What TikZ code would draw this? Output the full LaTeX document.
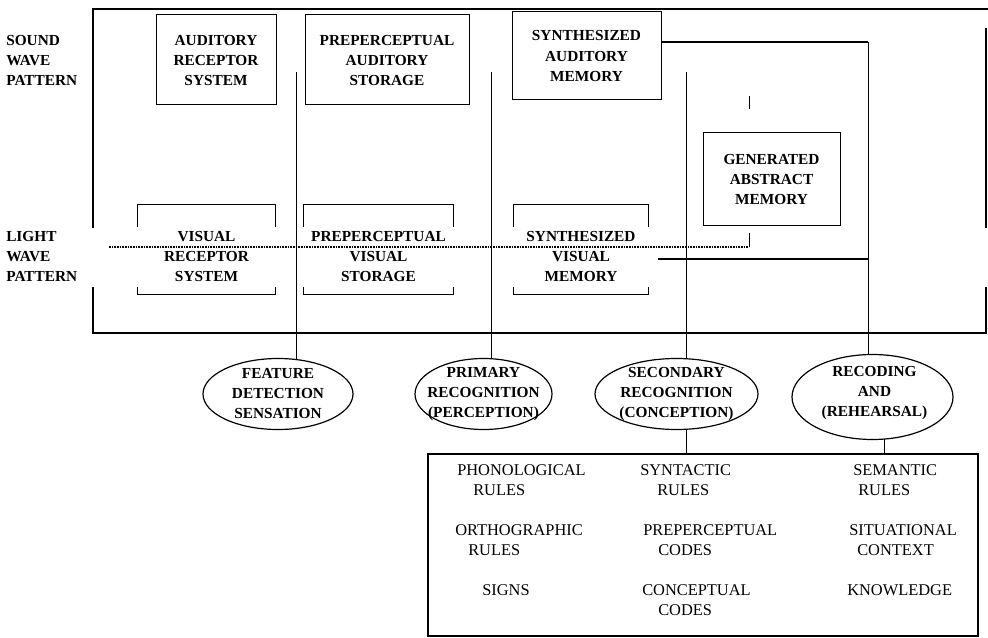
\documentclass[tikz,border=0pt]{standalone}
\usepackage{fontspec}
\setmainfont{Liberation Serif}
\usetikzlibrary{shapes.geometric,calc,backgrounds}
\newcommand{\boxfont}{\fontsize{11.5}{15}\selectfont\bfseries}
\newcommand{\rulefont}{\fontsize{12.3}{15}\selectfont}
\tikzset{
  frame/.style={line width=1pt},
  mem/.style={draw, line width=0.75pt, align=center, font=\boxfont, inner sep=0pt},
  vis/.style={align=center, font=\boxfont, inner sep=0pt},
  brk/.style={line width=0.75pt},
  stage/.style={ellipse, draw, fill=white, line width=0.9pt, inner sep=0pt, minimum height=53.25pt},
  stagetxt/.style={align=center, font=\boxfont, inner sep=0pt},
  wave/.style={align=left, font=\boxfont, anchor=west, inner sep=0pt},
  feed/.style={line width=0.6pt},
  link/.style={line width=1.3pt},
  lightray/.style={line width=0.8pt, dash pattern=on 1.2pt off 0.8pt},
  ruletxt/.style={align=left, font=\rulefont, anchor=west, inner sep=0pt},
}

\begin{document}
\begin{tikzpicture}[x=0.75pt, y=-0.75pt]
\useasboundingbox (0,0) rectangle (988,638);
% input labels
\node[wave] (sound) at (6,60) {SOUND\\WAVE\\PATTERN};
\node[wave] (light) at (6,256) {LIGHT\\WAVE\\PATTERN};
% outer store
\draw[frame] (93,228) -- (93,9) -- (988,9);
\draw[frame] (986,28) -- (986,228);
\draw[frame] (93,287) -- (93,333) -- (986,333) -- (986,287);
% auditory row
\node[mem, minimum width=90pt, minimum height=67.5pt] (ars) at (216,60) {AUDITORY\\RECEPTOR\\SYSTEM};
\node[mem, minimum width=123pt, minimum height=67.5pt] (pas) at (387,60) {PREPERCEPTUAL\\AUDITORY\\STORAGE};
\node[mem, minimum width=111.75pt, minimum height=66pt] (sam) at (586.5,56) {SYNTHESIZED\\AUDITORY\\MEMORY};
\node[mem, minimum width=102.75pt, minimum height=69pt] (gam) at (771.5,179) {GENERATED\\ABSTRACT\\MEMORY};
% visual row
\node[vis, minimum width=102.75pt] (vrs) at (206.5,256) {VISUAL\\RECEPTOR\\SYSTEM};
\node[vis, minimum width=111.75pt] (pvs) at (378.5,256) {PREPERCEPTUAL\\VISUAL\\STORAGE};
\node[vis, minimum width=100.5pt] (svm) at (581,256) {SYNTHESIZED\\VISUAL\\MEMORY};
\foreach \n in {vrs,pvs,svm} {
  \draw[brk] ($(\n.west)+(0,-29)$) |- ($(\n.east)+(0,-52)$) -- ($(\n.east)+(0,-29)$);
  \draw[brk] ($(\n.west)+(0,31)$) |- ($(\n.east)+(0,38)$) -- ($(\n.east)+(0,31)$);
}
% light path
\coordinate (lin) at (109,247);
\coordinate (lend) at (749,247);
\draw[lightray] (lin) -- (lend);
\draw[feed] (lend) -- ++(0,-14);
\draw[feed] (749,96) -- (749,109);
% processing stages
\node[stage, minimum width=112.5pt] (feat) at (278,394) {};
\node[stagetxt] (featT) at (feat) {FEATURE\\DETECTION\\SENSATION};
\node[stage, minimum width=102.75pt] (prim) at (483.5,394) {};
\node[stagetxt] (primT) at (prim) {PRIMARY\\RECOGNITION\\(PERCEPTION)};
\node[stage, minimum width=122.25pt] (sec) at (676.5,394) {};
\node[stagetxt] (secT) at (sec) {SECONDARY\\RECOGNITION\\(CONCEPTION)};
\node[stage, minimum width=120.75pt, minimum height=63.75pt] (rec) at (872.5,397) {};
\node[stagetxt] (recT) at ($(rec)+(2,-4)$) {RECODING\\AND\\(REHEARSAL)};
% long-term knowledge
\node[draw, line width=0.8pt, minimum width=412.5pt, minimum height=136.5pt, inner sep=0pt] (codes) at (703,545) {};
\node[ruletxt] (phon) at (457,480) {PHONOLOGICAL\\\hspace*{12pt}RULES};
\node[ruletxt] (orth) at (455,540) {ORTHOGRAPHIC\\\hspace*{9.75pt}RULES};
\node[ruletxt] (signs) at (482,590) {SIGNS};
\node[ruletxt] (synt) at (640,480) {SYNTACTIC\\\hspace*{12.75pt}RULES};
\node[ruletxt] (prep) at (643,540) {PREPERCEPTUAL\\\hspace*{11.25pt}CODES};
\node[ruletxt] (conc) at (642,600) {CONCEPTUAL\\\hspace*{12pt}CODES};
\node[ruletxt] (sem) at (853,480) {SEMANTIC\\\hspace*{3.75pt}RULES};
\node[ruletxt] (sit) at (849,540) {SITUATIONAL\\\hspace*{6pt}CONTEXT};
\node[ruletxt] (know) at (847,590) {KNOWLEDGE};
% connectors
\begin{scope}[on background layer]
\coordinate (ftop) at (296,72);
\coordinate (ptop) at (491,72);
\coordinate (stop) at (686,72);
\coordinate (rcor) at (868,42);
\coordinate (vfrom) at (658,259);
\draw[feed] (ftop) -- (ftop |- feat.center);
\draw[feed] (ptop) -- (ptop |- prim.center);
\draw[feed] (stop) -- (stop |- codes.north);
\draw[link] (sam.east |- rcor) -- (rcor);
\draw[feed] (rcor) -- (rcor |- rec.center);
\draw[link] (vfrom) -- (vfrom -| rcor);
\coordinate (rbot) at ($(rec.center)+(12,0)$);
\draw[feed] (rbot) -- (rbot |- codes.north);
\end{scope}
\end{tikzpicture}
\end{document}
